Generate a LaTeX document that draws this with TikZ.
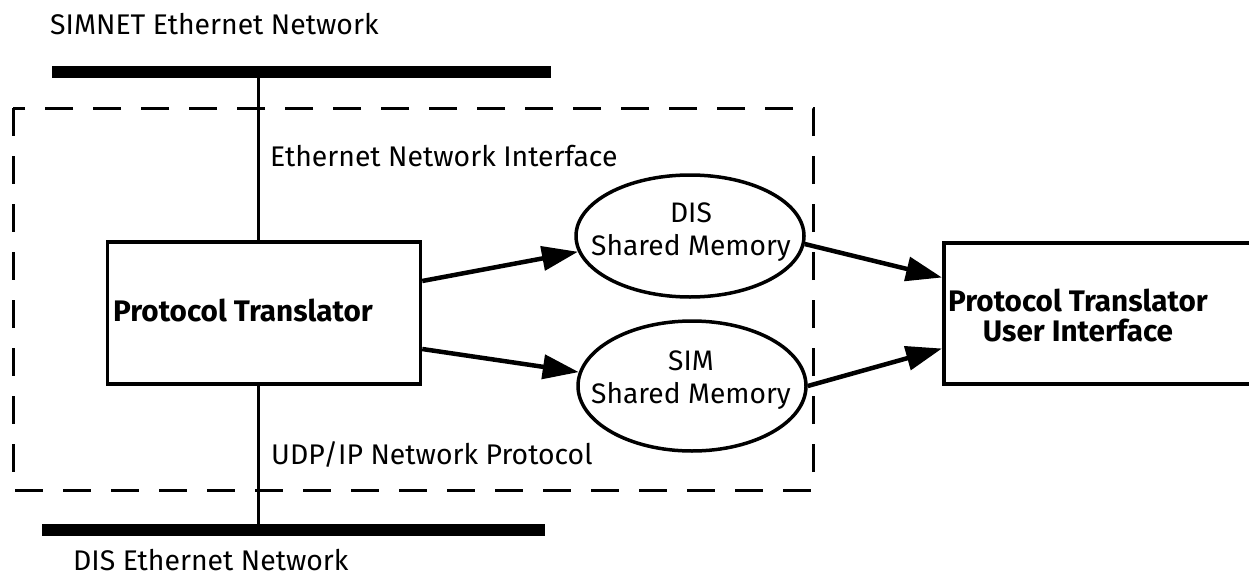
\documentclass[tikz,border=0pt]{standalone}
\usepackage{fontspec}
\setmainfont{Fira Sans}
\usetikzlibrary{arrows.meta,shapes.geometric,calc}
\begin{document}
\begin{tikzpicture}[x=1pt,y=-1pt,
  lbl/.style={font=\fontsize{28.4}{30}\selectfont, inner sep=0pt, anchor=west},
  boxtxt/.style={font=\fontsize{29.7}{30}\selectfont\bfseries, inner sep=0pt, align=center},
  memtxt/.style={font=\fontsize{28.2}{33.5}\selectfont, inner sep=0pt, align=center},
  bus/.style={line width=12pt},
  tap/.style={line width=3pt},
  blk/.style={draw, line width=3.5pt, rectangle, inner sep=0pt},
  mem/.style={draw, line width=3.5pt, ellipse, inner sep=0pt},
  flow/.style={line width=4.5pt, -{Triangle[length=36pt,width=24pt]}},
  frame/.style={line width=3pt, dash pattern=on 28pt off 20pt}
]
\clip (0,0) rectangle (1249,578);
\fill[white] (0,0) rectangle (1249,578);

% buses
\coordinate (simL) at (52,72);
\coordinate (simR) at (551,72);
\coordinate (disL) at (42,530);
\coordinate (disR) at (545,530);
\draw[bus] (simL) -- (simR);
\draw[bus] (disL) -- (disR);

% dashed boundary
\coordinate (fTL) at (13,108);
\coordinate (fBR) at (813,490);
\draw[frame] (fTL) rectangle (fBR);

% boxes
\node[blk, minimum width=313pt, minimum height=142pt] (pt) at (264,313) {};
\node[blk, minimum width=330pt, minimum height=141pt, anchor=west] (ptui) at (942,313.5) {};

% ellipses
\node[mem, minimum width=228pt, minimum height=122pt] (dis) at (690,236) {};
\node[mem, minimum width=228pt, minimum height=130pt] (sim) at (692,386) {};

% vertical taps
\coordinate (tapTop) at (258,72);
\coordinate (tapBot) at (258,530);
\draw[tap] (tapTop) -- (tapTop |- pt.north);
\draw[tap] (tapBot |- pt.south) -- (tapBot);

% texts
\node[lbl] (tsim) at (50,24) {SIMNET Ethernet Network};
\node[lbl] (teni) at (270,156) {Ethernet Network Interface};
\node[lbl] (tudp) at (271,455) {UDP/IP Network Protocol};
\node[lbl] (tdis) at (73,560) {DIS Ethernet Network};
\node[boxtxt, anchor=west] (tpt) at (113,310) {Protocol Translator};
\node[boxtxt] (tptui) at (1078,315) {Protocol Translator\\User Interface};
\node[memtxt] (tdism) at (691,232) {DIS\\Shared Memory};
\node[memtxt] (tsimm) at (691,380) {SIM\\Shared Memory};

% arrows
\draw[flow] ([yshift=32pt]pt.east) -- (dis.188);
\draw[flow] ([yshift=-36pt]pt.east) -- (sim.173);
\draw[flow] (dis.-4) -- ([yshift=36pt]ptui.west);
\draw[flow] (sim.0) -- ([yshift=-35pt]ptui.west);
\end{tikzpicture}
\end{document}
